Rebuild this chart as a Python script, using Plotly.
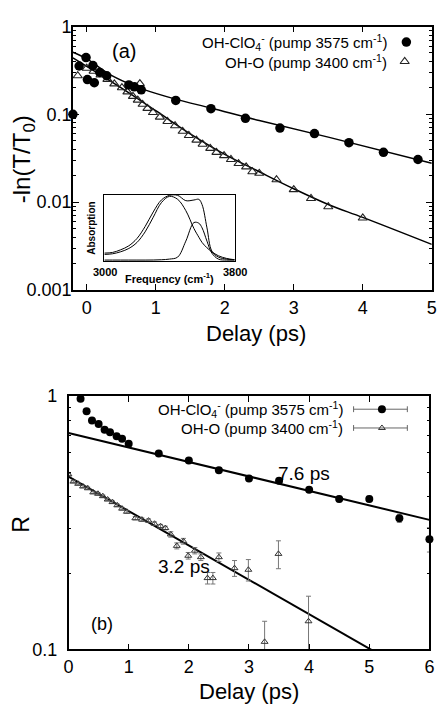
import numpy as np
import plotly.graph_objects as go

W, H = 440, 715
FONT = "Liberation Sans, Arial, Helvetica, sans-serif"

# ---------------- panel (a): -ln(T/T0) vs delay ----------------
clo4_a_t = [-0.2, -0.11, -0.01, 0.01, 0.09, 0.11, 0.19, 0.29, 0.61, 0.69, 0.79,
            1.29, 1.80, 2.30, 2.80, 3.30, 3.80, 4.30, 4.80]
clo4_a_y = [0.100, 0.355, 0.443, 0.249, 0.359, 0.229, 0.300, 0.275, 0.216, 0.206, 0.190,
            0.144, 0.116, 0.090, 0.0697, 0.0604, 0.0476, 0.0369, 0.0306]

oho_a_t = [-0.13, 0.00, 0.10, 0.20, 0.30, 0.40, 0.51, 0.59, 0.67, 0.74, 0.77, 0.81,
           0.88, 0.96, 1.06, 1.17, 1.28, 1.39, 1.48, 1.59, 1.68, 1.79, 1.88, 1.99,
           2.09, 2.20, 2.31, 2.40, 2.50, 2.75, 3.00, 3.25, 3.50, 4.00]
oho_a_y = [0.275, 0.335, 0.310, 0.280, 0.250, 0.222, 0.201, 0.180, 0.160, 0.145, 0.224, 0.130,
           0.117, 0.105, 0.093, 0.083, 0.0741, 0.0641, 0.0574, 0.0509, 0.0457, 0.0409, 0.0369, 0.0339,
           0.0306, 0.0275, 0.0252, 0.0222, 0.0213, 0.0180, 0.0139, 0.0110, 0.00887, 0.0066]

# fitted decay curves (sampled)
clo4_fit_t = [-0.2, 0.0, 0.3, 0.6, 0.8, 1.3, 1.8, 2.5, 3.5, 5.0]
clo4_fit_y = [0.51, 0.43, 0.295, 0.225, 0.195, 0.148, 0.118, 0.085, 0.055, 0.0277]
oho_fit_t = [-0.2, 0.5, 1.0, 1.5, 2.0, 2.5, 3.0, 3.5, 4.0, 5.0]
oho_fit_y = [0.44, 0.20, 0.110, 0.060, 0.035, 0.0222, 0.0142, 0.0094, 0.0067, 0.0033]

# inset: linear absorption spectrum and its two bands
freq = [3000, 3050, 3100, 3150, 3200, 3250, 3300, 3350, 3400, 3450, 3500,
        3550, 3580, 3600, 3630, 3660, 3700, 3750, 3800]
spec_total = [0.12, 0.13, 0.17, 0.23, 0.34, 0.52, 0.74, 0.92, 0.99, 0.99, 0.91,
              0.92, 0.93, 0.85, 0.50, 0.15, 0.06, 0.03, 0.02]
band_oho = [0.10, 0.11, 0.14, 0.19, 0.28, 0.44, 0.66, 0.88, 0.975, 0.93, 0.76,
            0.49, 0.36, 0.28, 0.20, 0.14, 0.08, 0.04, 0.02]
band_clo4 = [0.015, 0.015, 0.015, 0.015, 0.015, 0.015, 0.016, 0.02, 0.03, 0.06, 0.30,
             0.58, 0.57, 0.50, 0.30, 0.12, 0.03, 0.015, 0.015]

# ---------------- panel (b): anisotropy R vs delay ----------------
clo4_b_t = [0.2, 0.3, 0.39, 0.5, 0.6, 0.69, 0.8, 0.89, 1.0, 1.5, 2.0, 2.5, 3.0,
            3.5, 4.0, 4.5, 5.0, 5.5, 6.0]
clo4_b_r = [0.974, 0.87, 0.80, 0.774, 0.736, 0.718, 0.693, 0.677, 0.648, 0.593, 0.556,
            0.509, 0.472, 0.463, 0.426, 0.392, 0.392, 0.329, 0.272]
clo4_b_err = [0.01, 0.01, 0.01, 0.01, 0.01, 0.01, 0.01, 0.01, 0.01, 0.01, 0.01,
              0.01, 0.01, 0.01, 0.01, 0.01, 0.01, 0.012, 0.03]

oho_b_t = [0.0, 0.08, 0.16, 0.24, 0.32, 0.41, 0.49, 0.57, 0.65, 0.73, 0.81, 0.89, 0.97,
           1.11, 1.22, 1.33, 1.43, 1.53, 1.61, 1.70, 1.80, 1.91, 1.99, 2.10, 2.20,
           2.31, 2.40, 2.50, 2.76, 2.99, 3.26, 3.49, 3.99]
oho_b_r = [0.49, 0.459, 0.45, 0.439, 0.432, 0.416, 0.411, 0.402, 0.39, 0.381, 0.37, 0.359, 0.349,
           0.329, 0.325, 0.322, 0.313, 0.306, 0.301, 0.284, 0.256, 0.267, 0.234, 0.245, 0.231,
           0.191, 0.191, 0.231, 0.209, 0.206, 0.107, 0.238, 0.129]
oho_b_err = [0.004] * 13 + [0.005] * 6 + [0.007] * 6 + [0.01, 0.01, 0.009, 0.015, 0.02,
                                                       0.022, 0.03, 0.033]

# single-exponential fits: amplitude and time constant (ps)
fit_amp = [0.714, 0.48]
fit_tau = [7.6, 3.2]
fit_labels = ["7.6 ps", "3.2 ps"]

# ------------------------------------------------------------------
def fx(px):
    return px / W


def fy(py):
    return 1 - py / H


fig = go.Figure()

# panel (a) fits
fig.add_trace(go.Scatter(x=clo4_fit_t, y=clo4_fit_y, mode="lines",
                         line=dict(color="black", width=1.5, shape="spline"),
                         xaxis="x", yaxis="y", showlegend=False))
fig.add_trace(go.Scatter(x=oho_fit_t, y=oho_fit_y, mode="lines",
                         line=dict(color="black", width=1.5, shape="spline"),
                         xaxis="x", yaxis="y", showlegend=False))
# panel (a) data
fig.add_trace(go.Scatter(x=oho_a_t, y=oho_a_y, mode="markers",
                         marker=dict(symbol="triangle-up-open", size=8, color="#222",
                                     line=dict(width=1.1)),
                         xaxis="x", yaxis="y", cliponaxis=False, showlegend=False))
fig.add_trace(go.Scatter(x=clo4_a_t, y=clo4_a_y, mode="markers",
                         marker=dict(symbol="circle", size=9.5, color="black"),
                         xaxis="x", yaxis="y", cliponaxis=False, showlegend=False))

# inset spectrum
for curve in (spec_total, band_oho, band_clo4):
    fig.add_trace(go.Scatter(x=freq, y=curve, mode="lines",
                             line=dict(color="black", width=1, shape="spline"),
                             xaxis="x3", yaxis="y3", showlegend=False))

# panel (b) fits
t_fit = [0.0, 6.0]
for amp, tau in zip(fit_amp, fit_tau):
    fig.add_trace(go.Scatter(x=t_fit, y=[amp * np.exp(-t / tau) for t in t_fit],
                             mode="lines", line=dict(color="black", width=2),
                             xaxis="x2", yaxis="y2", showlegend=False))

# panel (b) data with error bars
fig.add_trace(go.Scatter(x=oho_b_t, y=oho_b_r, mode="markers",
                         error_y=dict(type="data", array=oho_b_err, color="#777",
                                      thickness=1, width=2.5),
                         marker=dict(symbol="triangle-up-open", size=6, color="#333",
                                     line=dict(width=1)),
                         xaxis="x2", yaxis="y2", showlegend=False))
fig.add_trace(go.Scatter(x=clo4_b_t, y=clo4_b_r, mode="markers",
                         error_y=dict(type="data", array=clo4_b_err, color="#777",
                                      thickness=1, width=2.5),
                         marker=dict(symbol="circle", size=8, color="black"),
                         xaxis="x2", yaxis="y2", cliponaxis=False, showlegend=False))

# legend keys (figure pixel frame)
fig.add_trace(go.Scatter(x=[410.7], y=[33], mode="markers",
                         marker=dict(symbol="circle", size=9.5, color="black"),
                         xaxis="x4", yaxis="y4", showlegend=False))
fig.add_trace(go.Scatter(x=[409], y=[53], mode="markers",
                         marker=dict(symbol="triangle-up-open", size=8, color="#222",
                                     line=dict(width=1.1)),
                         xaxis="x4", yaxis="y4", showlegend=False))
for ky in (410.7, 430):
    fig.add_trace(go.Scatter(
        x=[356.7, 411.7, None, 356.7, 356.7, None, 411.7, 411.7],
        y=[ky, ky, None, ky - 3, ky + 3, None, ky - 3, ky + 3],
        mode="lines", line=dict(color="#666", width=1),
        xaxis="x4", yaxis="y4", showlegend=False))
fig.add_trace(go.Scatter(x=[385.7], y=[410.7], mode="markers",
                         marker=dict(symbol="circle", size=8, color="black"),
                         xaxis="x4", yaxis="y4", showlegend=False))
fig.add_trace(go.Scatter(x=[385.7], y=[430], mode="markers",
                         marker=dict(symbol="triangle-up-open", size=6, color="#333",
                                     line=dict(width=1)),
                         xaxis="x4", yaxis="y4", showlegend=False))

axis_common = dict(showline=True, linecolor="black", linewidth=1.5, mirror="allticks",
                   ticks="inside", ticklen=6, tickwidth=1.2, tickcolor="black",
                   showgrid=False, zeroline=False,
                   tickfont=dict(family=FONT, size=18, color="black"))

log_minor = dict(dtick="D1", ticks="inside", ticklen=3, tickcolor="black", showgrid=False)

fig.update_layout(
    width=W, height=H,
    margin=dict(l=0, r=0, t=0, b=0),
    paper_bgcolor="white", plot_bgcolor="rgba(0,0,0,0)",
    font=dict(family=FONT, color="black"),
    xaxis=dict(axis_common, domain=[fx(69.5), fx(436.7)], range=[-0.2, 5],
               tickmode="linear", tick0=0, dtick=1, anchor="y", ticklabelstandoff=1),
    yaxis=dict(axis_common, domain=[fy(288), fy(17)], type="log", range=[-3, 0],
               tickmode="linear", tick0=0, dtick=1, minor=log_minor, anchor="x",
               ticklabelstandoff=-4),
    xaxis2=dict(axis_common, domain=[fx(65), fx(434.3)], range=[0, 6],
                tickmode="linear", tick0=0, dtick=1, anchor="y2"),
    yaxis2=dict(axis_common, domain=[fy(657.7), fy(397)], type="log", range=[-1, 0],
                tickmode="linear", tick0=0, dtick=1, minor=log_minor, anchor="x2",
                ticklabelstandoff=6),
    xaxis3=dict(domain=[fx(101.7), fx(235)], range=[3000, 3800], anchor="y3",
                showline=True, mirror=True, linecolor="black", linewidth=1,
                showticklabels=False, ticks="", showgrid=False, zeroline=False),
    yaxis3=dict(domain=[fy(258.3), fy(190)], range=[0, 1.0], anchor="x3",
                showline=True, mirror=True, linecolor="black", linewidth=1,
                showticklabels=False, ticks="", showgrid=False, zeroline=False),
    xaxis4=dict(domain=[0, 1], range=[0, W], anchor="y4", visible=False),
    yaxis4=dict(domain=[0, 1], range=[H, 0], anchor="x4", visible=False),
)

ann = []


def text(px, py, s, size, xanchor="center", angle=0, bold=False):
    label = "<b>" + s + "</b>" if bold else s
    ann.append(dict(x=fx(px), y=fy(py), xref="paper", yref="paper", text=label,
                    showarrow=False, xanchor=xanchor, yanchor="middle",
                    textangle=angle,
                    font=dict(family=FONT, size=size, color="black")))


# axis titles
text(19, 154, "-ln(T/T<sub>0</sub>)", 24, angle=-90)
text(257, 333, "Delay (ps)", 22)
text(17, 529, "R", 23, angle=-90)
text(250, 701, "Delay (ps)", 22)

# panel labels
text(122, 42, "(a)", 20)
text(99, 632, "(b)", 18)

# legends
text(393, 33, "OH-ClO<sub>4</sub><sup>-</sup> (pump 3575 cm<sup>-1</sup>)", 15, xanchor="right")
text(393, 53, "OH-O (pump 3400 cm<sup>-1</sup>)", 15, xanchor="right")
text(348, 410.7, "OH-ClO<sub>4</sub><sup>-</sup> (pump 3575 cm<sup>-1</sup>)", 15, xanchor="right")
text(348, 430, "OH-O (pump 3400 cm<sup>-1</sup>)", 15, xanchor="right")

# fit time constants
text(306, 477, fit_labels[0], 19)
text(183, 573, fit_labels[1], 19)

# inset labels
text(89, 224, "Absorption", 10, angle=-90, bold=True)
text(102.5, 269.5, "3000", 11, bold=True)
text(168, 276, "Frequency (cm<sup>-1</sup>)", 11, bold=True)
text(235, 269.5, "3800", 11, bold=True)

fig.update_layout(annotations=ann)

fig.write_html("out.html")
